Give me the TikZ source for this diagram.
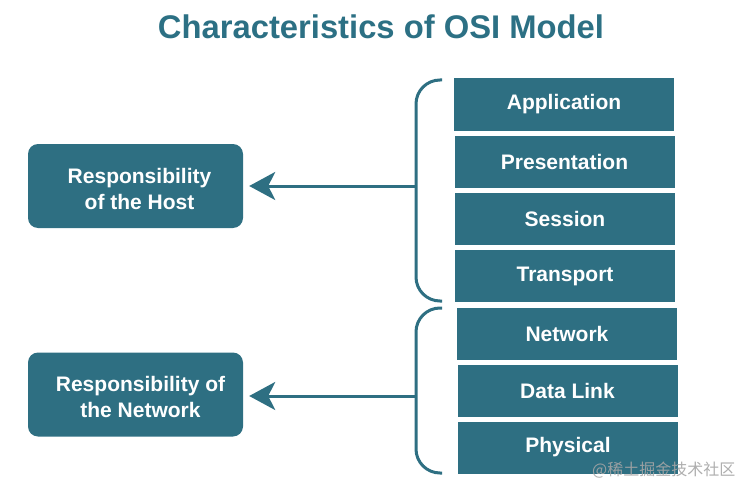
\documentclass[tikz,border=0pt]{standalone}
\usepackage{fontspec}
\setmainfont{Liberation Sans}
\newfontfamily\cjk{Noto Sans CJK SC}
\usetikzlibrary{arrows.meta}
\definecolor{teal1}{RGB}{46,111,130}
\definecolor{titlec}{RGB}{44,112,132}
\definecolor{wmc}{RGB}{165,165,165}
\tikzset{
  layer/.style={fill=teal1, text=white, minimum width=220pt, minimum height=52pt, inner sep=0pt,
    font=\fontsize{21}{25}\selectfont\bfseries},
  resp/.style={fill=teal1, rounded corners=10pt, minimum width=215pt, minimum height=84pt, inner sep=0pt},
  resptext/.style={text=white, inner sep=0pt, align=center, font=\fontsize{21}{25.5}\selectfont\bfseries},
  bracec/.style={draw=teal1, line width=3pt, rounded corners=24pt},
  arr/.style={draw=teal1, line width=3pt, -{Stealth[length=26pt,width=28pt,inset=7pt]}, shorten >=6pt}
}
\begin{document}
\begin{tikzpicture}[x=1pt,y=-1pt]
\useasboundingbox (0,0) rectangle (750,495);
\node[text=titlec, font=\fontsize{32}{36}\selectfont\bfseries] (title) at (381,27) {\resizebox{446pt}{!}{Characteristics of OSI Model}};
% layers
\node[layer] (app) at (564,104.5) {Application};
\node[layer] (pres) at (564.5,162) {Presentation};
\node[layer] (sess) at (565,218.5) {Session};
\node[layer] (trans) at (565,276) {Transport};
\node[layer] (net) at (567,333.5) {Network};
\node[layer] (dl) at (567.5,390.5) {Data Link};
\node[layer] (phys) at (568,447.5) {Physical};
% left boxes
\node[resp] (host) at (135.5,186) {};
\node[resptext] (hosttext) at (139.5,189) {Responsibility\\of the Host};
\node[resp] (netw) at (135.5,394.5) {};
\node[resptext] (netwtext) at (140.5,397) {Responsibility of\\the Network};
% braces
\coordinate (hnub) at (416,186);
\coordinate (nnub) at (416,396);
\draw[bracec] (442,80) -- (416,80) -- (416,301) -- (442,301);
\draw[bracec] (442,308) -- (416,308) -- (416,473) -- (442,473);
\draw[arr] (hnub) -- (hnub -| host.east);
\draw[arr] (nnub) -- (nnub -| netw.east);
% watermark
\node[text=wmc, opacity=0.9, font=\fontsize{16}{19}\selectfont\cjk, anchor=west, inner sep=0pt] (wm) at (592,470) {@稀土掘金技术社区};
\end{tikzpicture}
\end{document}
